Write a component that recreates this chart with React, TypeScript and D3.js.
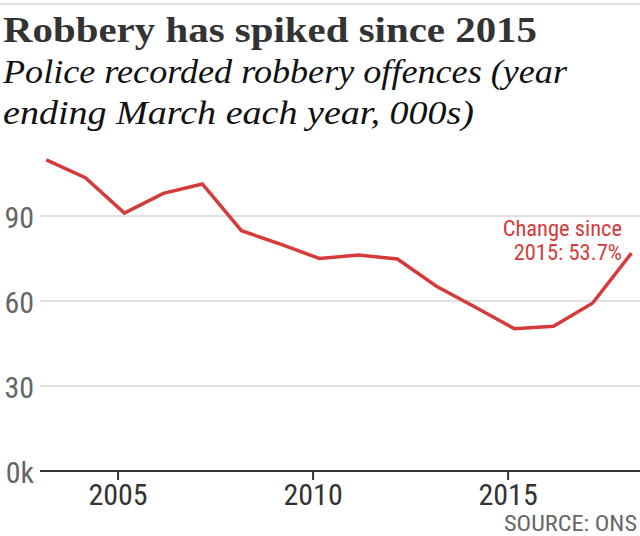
import React from "react";
import * as d3 from "d3";

const years = [2003, 2004, 2005, 2006, 2007, 2008, 2009, 2010, 2011, 2012, 2013, 2014, 2015, 2016, 2017, 2018];
const robbery = [109.8, 103.5, 91.0, 98.0, 101.3, 84.8, 80.1, 75.0, 76.2, 74.8, 65.2, 57.8, 50.2, 51.1, 59.2, 76.9];
const yTicks = [0, 30, 60, 90];
const xTickYears = [2005, 2010, 2015];
const title = "Robbery has spiked since 2015";
const subtitleLines = ["Police recorded robbery offences (year", "ending March each year, 000s)"];
const annotationLines = ["Change since", "2015: 53.7%"];
const source = "SOURCE: ONS";

const W = 640;
const H = 536;
const RED = "#d63b3b";
const SANS = "'Liberation Sans Narrow', 'Roboto Condensed', 'DejaVu Sans Condensed', sans-serif";
const SERIF = "'Liberation Serif', 'DejaVu Serif', serif";

export default function App() {
  const x = d3
    .scaleTime()
    .domain([new Date(2003, 0, 1), new Date(2018, 4, 20)])
    .range([40, 640]);
  const y = d3.scaleLinear().domain([0, 120]).range([471, 131]);
  const data = years.map((yr, i) => ({ date: new Date(yr, 2, 1), v: robbery[i] }));
  const line = d3
    .line<{ date: Date; v: number }>()
    .x((d) => x(d.date))
    .y((d) => y(d.v));

  return (
    <svg
      width={W}
      height={H}
      style={{ position: "absolute", left: 0, top: 0, background: "#fff" }}
    >
      <rect x={0} y={3} width={W} height={2} fill="#e0e0e0" />
      <text
        x={3}
        y={42}
        fontFamily={SERIF}
        fontWeight={700}
        fontSize={36}
        fill="#333"
        textLength={534}
        lengthAdjust="spacingAndGlyphs"
      >
        {title}
      </text>
      {subtitleLines.map((s, i) => (
        <text
          key={i}
          x={3}
          y={83 + i * 41}
          fontFamily={SERIF}
          fontStyle="italic"
          fontSize={34}
          fill="#111"
          textLength={i === 0 ? 564 : 471}
          lengthAdjust="spacingAndGlyphs"
        >
          {s}
        </text>
      ))}
      {yTicks
        .filter((t) => t !== 0)
        .map((t) => (
          <line key={t} x1={40} x2={W} y1={y(t)} y2={y(t)} stroke="#e0e0e0" strokeWidth={2} />
        ))}
      {yTicks.map((t) => (
        <text
          key={t}
          x={34}
          y={y(t) + 12}
          textAnchor="end"
          fontFamily={SANS}
          fontSize={30}
          fill="#666"
        >
          {t === 0 ? "0k" : t}
        </text>
      ))}
      <line x1={40} x2={W} y1={y(0)} y2={y(0)} stroke="#333" strokeWidth={2} />
      {xTickYears.map((yr) => {
        const xx = x(new Date(yr, 0, 1));
        return (
          <g key={yr}>
            <line x1={xx} x2={xx} y1={y(0)} y2={y(0) + 9} stroke="#333" strokeWidth={2} />
            <text
              x={xx}
              y={505}
              textAnchor="middle"
              fontFamily={SANS}
              fontSize={30}
              fill="#333"
            >
              {yr}
            </text>
          </g>
        );
      })}
      <path d={line(data) || ""} fill="none" stroke={RED} strokeWidth={3.5} strokeLinejoin="miter" />
      {annotationLines.map((s, i) => (
        <text
          key={i}
          x={622}
          y={236 + i * 24}
          textAnchor="end"
          fontFamily={SANS}
          fontSize={22.5}
          fill={RED}
        >
          {s}
        </text>
      ))}
      <text
        x={637}
        y={531}
        textAnchor="end"
        fontFamily={SANS}
        fontSize={22.5}
        fill="#666"
        textLength={133}
        lengthAdjust="spacingAndGlyphs"
      >
        {source}
      </text>
    </svg>
  );
}
